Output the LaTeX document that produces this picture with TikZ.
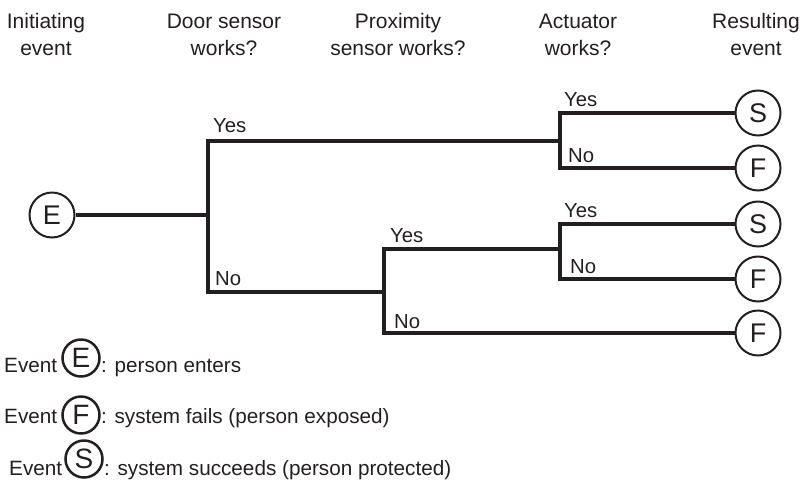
\documentclass[tikz,border=0pt]{standalone}
\usepackage{fontspec}
\setmainfont{Liberation Sans}
\definecolor{ink}{HTML}{231F20}
\begin{document}
\begin{tikzpicture}[x=1pt,y=-1pt,
  every node/.style={text=ink},
  hdr/.style={anchor=base, inner sep=0pt, font=\fontsize{21}{27}\selectfont},
  lbl/.style={anchor=base west, inner sep=0pt, font=\fontsize{20.3}{22}\selectfont},
  leg/.style={anchor=base west, inner sep=0pt, font=\fontsize{20.7}{22}\selectfont},
  ev/.style={circle, draw=ink, line width=2pt, minimum size=45pt, inner sep=0pt, font=\fontsize{27}{27}\selectfont},
  lev/.style={circle, draw=ink, line width=2.5pt, minimum size=37pt, inner sep=0pt, font=\fontsize{28}{28}\selectfont},
  br/.style={draw=ink, line width=3.4pt, line join=miter}]
\useasboundingbox (0,0) rectangle (802,485);

% headers
\node[hdr] (h1a) at (46,28) {Initiating};
\node[hdr] (h1b) at (46,55) {event};
\node[hdr] (h2a) at (224,28) {Door sensor};
\node[hdr] (h2b) at (224,55) {works?};
\node[hdr] (h3a) at (398,28) {Proximity};
\node[hdr] (h3b) at (398,55) {sensor works?};
\node[hdr] (h4a) at (578,28) {Actuator};
\node[hdr] (h4b) at (578,55) {works?};
\node[hdr] (h5a) at (756,28) {Resulting};
\node[hdr] (h5b) at (756,55) {event};

% event nodes
\node[ev] (E) at (52,215) {E};
\node[ev] (S1) at (758,113) {S};
\node[ev] (F1) at (758,168) {F};
\node[ev] (S2) at (758,224) {S};
\node[ev] (F2) at (758,279) {F};
\node[ev] (F3) at (758,333) {F};

% branch points
\coordinate (d) at (208,215);
\coordinate (dY) at (208,141);
\coordinate (dN) at (208,292);
\coordinate (a1m) at (560,141);
\coordinate (a1t) at (560,113);
\coordinate (a1b) at (560,168);
\coordinate (pm) at (384,292);
\coordinate (pt) at (384,249);
\coordinate (pb) at (384,333);
\coordinate (a2m) at (560,249);
\coordinate (a2t) at (560,224);
\coordinate (a2b) at (560,279);

\draw[br] (E) -- (d);
\draw[br] (a1m) -- (dY) -- (dN) -- (pm);
\draw[br] (S1) -- (a1t) -- (a1b) -- (F1);
\draw[br] (a2m) -- (pt) -- (pb) -- (F3);
\draw[br] (S2) -- (a2t) -- (a2b) -- (F2);

% branch labels
\node[lbl] (l1) at (213,132) {Yes};
\node[lbl] (l2) at (215,285) {No};
\node[lbl] (l3) at (390,242) {Yes};
\node[lbl] (l4) at (394,328) {No};
\node[lbl] (l5) at (564,106) {Yes};
\node[lbl] (l6) at (568,162) {No};
\node[lbl] (l7) at (564,217) {Yes};
\node[lbl] (l8) at (570,273) {No};

% legend
\node[leg] (g1) at (4,372) {Event};
\node[lev] (gE) at (81,358) {E};
\node[leg] (g1t) at (101,372) {: person enters};
\node[leg] (g2) at (4,423) {Event};
\node[lev] (gF) at (81,415) {F};
\node[leg] (g2t) at (101,423) {: system fails (person exposed)};
\node[leg] (g3) at (9,475) {Event};
\node[lev] (gS) at (84,459) {S};
\node[leg] (g3t) at (104,475) {: system succeeds (person protected)};
\end{tikzpicture}
\end{document}
